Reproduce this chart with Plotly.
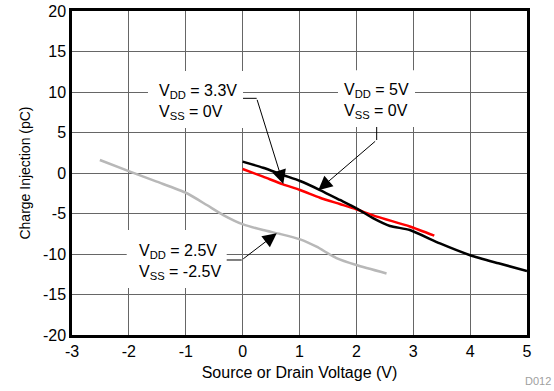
import plotly.graph_objects as go

# Charge injection vs. source/drain voltage for three supply configurations
x_5v = [0, 0.36, 0.71, 1.01, 1.36, 1.71, 2.0, 2.3, 2.59, 2.94, 3.47, 4.0, 4.5, 5.0]
q_5v = [1.4, 0.65, -0.25, -0.99, -2.1, -3.33, -4.36, -5.6, -6.54, -7.04, -8.7, -10.15, -11.15, -12.1]

x_33v = [0, 0.36, 0.71, 1.01, 1.36, 1.71, 2.0, 2.36, 2.94, 3.37]
q_33v = [0.49, -0.45, -1.4, -2.1, -3.05, -3.83, -4.48, -5.39, -6.6, -7.74]

x_25v = [-2.51, -1.98, -1.51, -0.98, -0.63, -0.34, 0.01, 0.36, 0.66, 1.01, 1.3, 1.65, 2.0, 2.53]
q_25v = [1.6, 0.16, -1.07, -2.5, -3.95, -5.19, -6.35, -7.04, -7.53, -8.19, -9.1, -10.5, -11.36, -12.4]

x_ticks = [-3, -2, -1, 0, 1, 2, 3, 4, 5]
y_ticks = [-20, -15, -10, -5, 0, 5, 10, 15, 20]

FONT = "Liberation Sans, Arial, sans-serif"

fig = go.Figure()
fig.add_trace(go.Scatter(x=x_25v, y=q_25v, mode="lines",
                         line=dict(color="#b8b8b8", width=2.5, shape="spline", smoothing=0.6)))
fig.add_trace(go.Scatter(x=x_33v, y=q_33v, mode="lines",
                         line=dict(color="#ff0000", width=2.5, shape="spline", smoothing=0.6)))
fig.add_trace(go.Scatter(x=x_5v, y=q_5v, mode="lines",
                         line=dict(color="#000000", width=2.5, shape="spline", smoothing=0.6)))

# White label boxes that mask the grid behind the callout text
boxes = [(-1.664, 0.007, 5.56, 12.59),
         (1.677, 3.031, 5.68, 12.7),
         (-2.038, -0.28, -14.2, -7.04)]
shapes = []
for x0, x1, y0, y1 in boxes:
    shapes.append(dict(type="rect", xref="x", yref="y", x0=x0, x1=x1, y0=y0, y1=y1,
                       fillcolor="white", line=dict(width=0), layer="between"))

# Leader line segments (the straight part before the arrow)
leaders = [(0.007, 9.22, 0.247, 9.22),
           (2.357, 5.68, 2.357, 4.07),
           (-0.28, -10.74, -0.016, -10.74)]
for x0, y0, x1, y1 in leaders:
    shapes.append(dict(type="line", xref="x", yref="y", x0=x0, y0=y0, x1=x1, y1=y1,
                       line=dict(color="black", width=1), layer="above"))

annotations = []
labels = [("V<sub>DD</sub> = 3.3V<br>V<sub>SS</sub> = 0V", -1.505, 8.8),
          ("V<sub>DD</sub> = 5V<br>V<sub>SS</sub> = 0V", 1.747, 8.9),
          ("V<sub>DD</sub> = 2.5V<br>V<sub>SS</sub> = -2.5V", -1.857, -11.0)]
for txt, x, y in labels:
    annotations.append(dict(text=txt, x=x, y=y, xref="x", yref="y", xanchor="left",
                            yanchor="middle", align="left", showarrow=False,
                            font=dict(family=FONT, size=16, color="black")))

arrows = [(0.715, -1.35, 0.247, 9.22),
          (1.33, -2.12, 2.357, 4.07),
          (0.60, -7.44, -0.016, -10.74)]
for tx, ty, kx, ky in arrows:
    annotations.append(dict(text="", x=tx, y=ty, ax=kx, ay=ky, xref="x", yref="y",
                            axref="x", ayref="y", showarrow=True, arrowhead=2,
                            arrowsize=2.8, arrowwidth=1, arrowcolor="black", standoff=0))

# Figure ID in the lower-right corner of the page
annotations.append(dict(text="D012", x=1.0, y=0.0, xref="paper", yref="paper",
                        xanchor="right", yanchor="middle", xshift=26, yshift=-46,
                        showarrow=False, font=dict(family=FONT, size=11, color="#a0a0a0")))

axis_common = dict(showgrid=True, gridcolor="#666666", gridwidth=1, zeroline=False,
                   showline=True, linecolor="black", linewidth=2.5, mirror=True,
                   ticks="", automargin=False,
                   tickfont=dict(family=FONT, size=16, color="black"))

fig.update_layout(
    width=554, height=391,
    margin=dict(l=72, r=27, t=11, b=56),
    paper_bgcolor="white", plot_bgcolor="white",
    showlegend=False,
    shapes=shapes, annotations=annotations,
    xaxis=dict(range=[-3, 5], tickvals=x_ticks, ticktext=[str(v) for v in x_ticks],
               title=dict(text="Source or Drain Voltage (V)", standoff=8,
                          font=dict(family=FONT, size=16, color="black")),
               **axis_common),
    yaxis=dict(range=[-20, 20], tickvals=y_ticks, ticktext=[str(v) for v in y_ticks],
               title=dict(text="Charge Injection (pC)", standoff=10,
                          font=dict(family=FONT, size=14, color="black")),
               **axis_common),
)

fig.write_html("out.html")
